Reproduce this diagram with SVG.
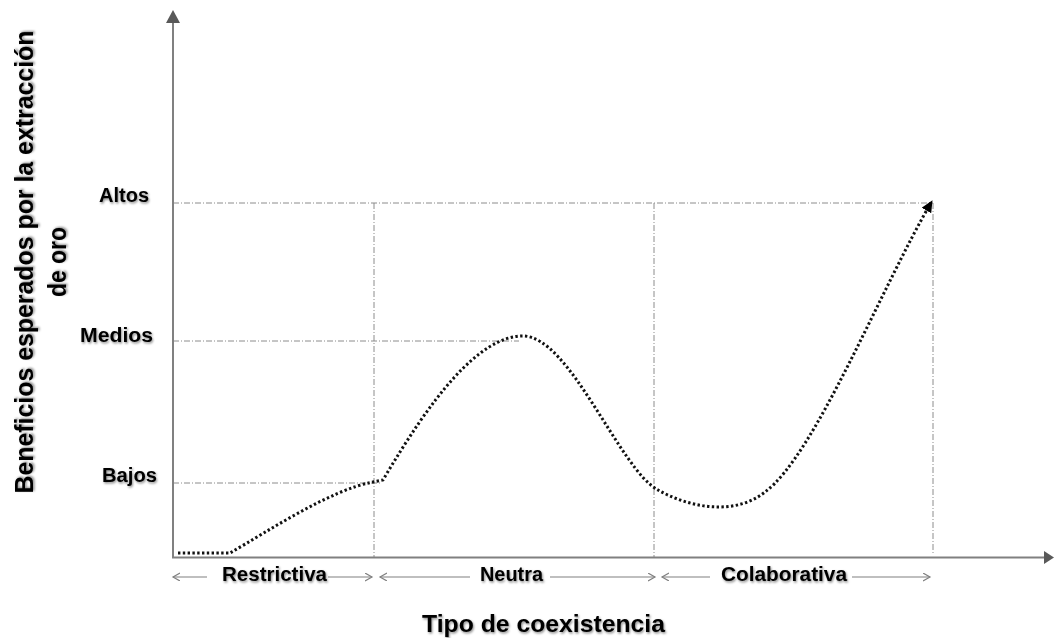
<svg xmlns="http://www.w3.org/2000/svg" width="1054" height="638" viewBox="0 0 1054 638">
<style>
.lbl{font-family:"Liberation Sans",Arial,sans-serif;font-weight:bold;fill:#000;filter:url(#sh)}
.grid{stroke:#8c8c8c;stroke-width:1;fill:none;stroke-dasharray:6 2 1 2}
.axis{stroke:#808080;stroke-width:2;fill:none}
.cat{stroke:#808080;stroke-width:1.2;fill:none}
.curve{stroke:#111;stroke-width:3;fill:none;stroke-dasharray:2.4 2.4}
</style>
<defs>
<filter id="sh" x="-10%" y="-20%" width="130%" height="160%">
<feDropShadow dx="1" dy="1.5" stdDeviation="1" flood-color="#000" flood-opacity="0.45"/>
</filter>
<marker id="open" markerUnits="userSpaceOnUse" markerWidth="10" markerHeight="10" refX="7" refY="4" orient="auto-start-reverse">
<path d="M0,0 L7,4 L0,8" stroke="#808080" stroke-width="1.2" fill="none"/>
</marker>
<marker id="solid" markerUnits="userSpaceOnUse" markerWidth="14" markerHeight="14" refX="11" refY="5.5" orient="auto">
<path d="M0,0 L12,5.5 L0,11 Z" fill="#000"/>
</marker>
</defs>
<rect width="1054" height="638" fill="#fff"/>

<g id="grid">
<line class="grid" x1="173" y1="203" x2="933" y2="203"/>
<line class="grid" x1="173" y1="341" x2="519" y2="341"/>
<line class="grid" x1="173" y1="483" x2="380" y2="483"/>
<line class="grid" x1="374" y1="203" x2="374" y2="557"/>
<line class="grid" x1="654" y1="203" x2="654" y2="557"/>
<line class="grid" x1="933" y1="203" x2="933" y2="553"/>
</g>

<g id="axes">
<line class="axis" x1="173" y1="557" x2="173" y2="22"/>
<polygon points="173,10 166,23 180,23" fill="#595959"/>
<line class="axis" x1="172" y1="557.5" x2="1045" y2="557.5"/>
<polygon points="1054,557.5 1044,551 1044,564" fill="#595959"/>
</g>

<g id="connectors">
<path class="curve" d="M178,553 L230,553 C270,530 330,490 373,482 L383,480 C430,400 478,336 523,336 C570,336 620,470 658,490 C690,508 735,516 765,492 C815,455 880,290 932,201" marker-end="url(#solid)"/>
</g>

<g id="category-arrows">
<line class="cat" x1="173" y1="577" x2="207" y2="577" marker-start="url(#open)"/>
<line class="cat" x1="328" y1="577" x2="372" y2="577" marker-end="url(#open)"/>
<line class="cat" x1="380" y1="577" x2="470" y2="577" marker-start="url(#open)"/>
<line class="cat" x1="550" y1="577" x2="655" y2="577" marker-end="url(#open)"/>
<line class="cat" x1="662" y1="577" x2="710" y2="577" marker-start="url(#open)"/>
<line class="cat" x1="852" y1="577" x2="930" y2="577" marker-end="url(#open)"/>
</g>

<g id="y-labels">
<text class="lbl" x="99" y="202" font-size="20" textLength="50" lengthAdjust="spacingAndGlyphs">Altos</text>
<text class="lbl" x="80" y="342" font-size="20" textLength="73" lengthAdjust="spacingAndGlyphs">Medios</text>
<text class="lbl" x="102" y="482" font-size="20" textLength="55" lengthAdjust="spacingAndGlyphs">Bajos</text>
</g>

<g id="x-labels">
<text class="lbl" x="222" y="581" font-size="20" textLength="105" lengthAdjust="spacingAndGlyphs">Restrictiva</text>
<text class="lbl" x="480" y="581" font-size="20" textLength="63" lengthAdjust="spacingAndGlyphs">Neutra</text>
<text class="lbl" x="721" y="581" font-size="20" textLength="126" lengthAdjust="spacingAndGlyphs">Colaborativa</text>
</g>

<g id="x-title">
<text class="lbl" x="422" y="632" font-size="24" textLength="243" lengthAdjust="spacingAndGlyphs">Tipo de coexistencia</text>
</g>

<g id="y-title">
<text class="lbl" transform="translate(33,262) rotate(-90)" x="0" y="0" font-size="25" text-anchor="middle" textLength="463" lengthAdjust="spacingAndGlyphs">Beneficios esperados por la extracción</text>
<text class="lbl" transform="translate(66,262) rotate(-90)" x="0" y="0" font-size="25" text-anchor="middle" textLength="70" lengthAdjust="spacingAndGlyphs">de oro</text>
</g>
</svg>
